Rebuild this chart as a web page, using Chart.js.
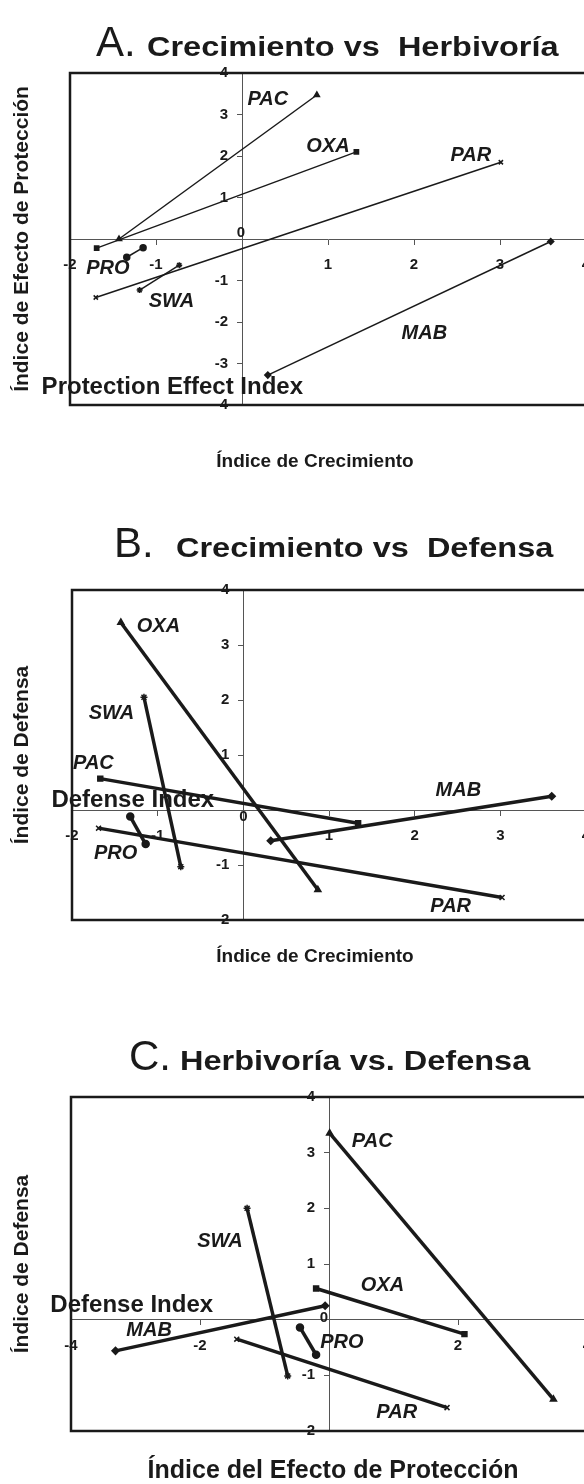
<!DOCTYPE html>
<html>
<head>
<meta charset="utf-8">
<script src="https://cdn.jsdelivr.net/npm/chart.js@4.4.1/dist/chart.umd.min.js"></script>
<style>
  html, body { margin: 0; padding: 0; background: #fff; width: 584px; height: 1484px; overflow: hidden; }
  canvas { position: absolute; left: 0; }
</style>
</head>
<body>
<canvas id="chartA" width="610" height="480" style="top:0px"></canvas>
<canvas id="chartB" width="610" height="500" style="top:480px"></canvas>
<canvas id="chartC" width="610" height="504" style="top:980px"></canvas>
<script>
const SPECIES = ['PAC', 'OXA', 'PAR', 'PRO', 'SWA', 'MAB'];
const MARKERS = ['triangle', 'rect', 'crossRot', 'circle', 'star', 'rectRot'];

// A. growth index (x) vs protection effect index (y): two points per species
const A_X1 = [-1.43, -1.69, -1.70, -1.34, -1.19, 0.30];
const A_Y1 = [0.00, -0.22, -1.41, -0.44, -1.23, -3.28];
const A_X2 = [0.87, 1.33, 3.01, -1.15, -0.73, 3.59];
const A_Y2 = [3.47, 2.10, 1.85, -0.21, -0.63, -0.06];

// B. growth index (x) vs defense index (y)
const B_X1 = [-1.43, -1.67, -1.69, -1.32, -1.16, 0.32];
const B_Y1 = [3.41, 0.57, -0.33, -0.12, 2.05, -0.56];
const B_X2 = [0.87, 1.34, 3.02, -1.14, -0.73, 3.60];
const B_Y2 = [-1.45, -0.24, -1.59, -0.62, -1.03, 0.25];

// C. protection effect index (x) vs defense index (y)
const C_X1 = [0.01, -0.20, -1.43, -0.45, -1.27, -3.31];
const C_Y1 = [3.35, 0.56, -0.35, -0.14, 2.00, -0.56];
const C_X2 = [3.48, 2.10, 1.83, -0.20, -0.64, -0.06];
const C_Y2 = [-1.43, -0.26, -1.58, -0.63, -1.01, 0.25];

// tick labels
const A_XTICKS = [-2, -1, 0, 1, 2, 3, 4];
const A_YTICKS = [-4, -3, -2, -1, 0, 1, 2, 3, 4];
const B_XTICKS = [-2, -1, 0, 1, 2, 3, 4];
const B_YTICKS = [-2, -1, 0, 1, 2, 3, 4];
const C_XTICKS = [-4, -2, 0, 2, 4];
const C_YTICKS = [-2, -1, 0, 1, 2, 3, 4];

// text printed next to the lines, as it appears in each panel
const A_LABELS = ['PAC', 'OXA', 'PAR', 'PRO', 'SWA', 'MAB'];
const A_LABEL_X = [0.30, 1.00, 2.66, -1.56, -0.82, 2.12];
const A_LABEL_Y = [3.35, 2.22, 2.02, -0.71, -1.51, -2.27];
const B_LABELS = ['OXA', 'SWA', 'PAC', 'MAB', 'PRO', 'PAR'];
const B_LABEL_X = [-0.99, -1.54, -1.75, 2.51, -1.49, 2.42];
const B_LABEL_Y = [3.33, 1.75, 0.84, 0.35, -0.79, -1.76];
const C_LABELS = ['PAC', 'SWA', 'OXA', 'MAB', 'PRO', 'PAR'];
const C_LABEL_X = [0.67, -1.69, 0.83, -2.79, 0.20, 1.05];
const C_LABEL_Y = [3.20, 1.40, 0.61, -0.19, -0.41, -1.66];

const FONT = '"Liberation Sans", Arial, Helvetica, sans-serif';

function textAt(ctx, str, x, y, font, align, stretch) {
  ctx.save();
  ctx.font = font;
  ctx.textAlign = align;
  ctx.textBaseline = 'alphabetic';
  ctx.translate(x, y);
  ctx.scale(stretch || 1, 1);
  ctx.fillText(str, 0, 0);
  ctx.restore();
}

const decor = {
  id: 'decor',
  beforeDraw(chart) {
    // y labels sit on the axis line when the axis is placed at x = 0; move them left
    chart.scales.y.getLabelItems().forEach(it => {
      if (!it.moved) { it.options.translation[0] -= 14; it.moved = true; }
    });
  },
  afterDraw(chart, args, o) {
    const ctx = chart.ctx;
    const { left, top, right, bottom } = chart.chartArea;
    const xs = chart.scales.x, ys = chart.scales.y;
    ctx.save();
    ctx.fillStyle = '#1a1a1a';

    // frame
    ctx.strokeStyle = '#1a1a1a';
    ctx.lineWidth = 2.5;
    ctx.strokeRect(left, top, right - left, bottom - top);

    // zero label near the origin
    ctx.font = 'bold 15px ' + FONT;
    ctx.textAlign = 'center';
    ctx.textBaseline = 'middle';
    ctx.fillText('0', xs.getPixelForValue(0) + o.zero[0], ys.getPixelForValue(0) + o.zero[1]);

    // species labels
    ctx.font = 'italic bold 20px ' + FONT;
    o.labels.forEach((t, i) => {
      ctx.fillText(t, xs.getPixelForValue(o.labelX[i]), ys.getPixelForValue(o.labelY[i]));
    });

    // leftover english axis name
    ctx.font = 'bold 24px ' + FONT;
    ctx.textAlign = 'left';
    ctx.fillText(o.note, xs.getPixelForValue(o.noteX), ys.getPixelForValue(o.noteY));

    // panel title
    textAt(ctx, o.letter, o.letterX, o.titleY, '42px ' + FONT, 'left', 1);
    textAt(ctx, o.title, o.titleX, o.titleY, 'bold 28px ' + FONT, 'left', 1.16);

    // axis titles
    textAt(ctx, o.xTitle, o.xTitleX, o.xTitleY, 'bold ' + o.xSize + 'px ' + FONT, 'center', 1);
    ctx.save();
    ctx.translate(o.yTitleX, (top + bottom) / 2);
    ctx.rotate(-Math.PI / 2);
    ctx.font = 'bold 21px ' + FONT;
    ctx.textAlign = 'center';
    ctx.textBaseline = 'middle';
    ctx.fillText(o.yTitle, 0, 0);
    ctx.restore();

    ctx.restore();
  }
};

function axis(min, max, ticks, pos) {
  const horizontal = pos === 'x';
  return {
    type: 'linear',
    min: min,
    max: max,
    position: horizontal ? { y: 0 } : { x: 0 },
    afterFit(s) { if (horizontal) s.height = 0; else s.width = 0; },
    afterBuildTicks(s) { s.ticks = ticks.map(v => ({ value: v })); },
    grid: { display: true, drawOnChartArea: false, drawTicks: true, tickLength: 5, color: '#555', tickColor: '#555', lineWidth: 1 },
    border: { display: true, color: '#555', width: 1 },
    ticks: {
      autoSkip: false,
      maxRotation: 0,
      padding: horizontal ? 12 : 9,
      color: '#1a1a1a',
      font: { family: FONT, size: 15, weight: 'bold' },
      callback: v => (v === 0 ? '' : String(v))
    }
  };
}

function makePanel(id, p) {
  const datasets = SPECIES.map((s, i) => ({
    label: s,
    data: [{ x: p.x1[i], y: p.y1[i] }, { x: p.x2[i], y: p.y2[i] }],
    showLine: true,
    borderColor: '#1a1a1a',
    backgroundColor: '#1a1a1a',
    borderWidth: p.lineWidth,
    pointStyle: MARKERS[i],
    pointRadius: p.pointRadius,
    pointBorderWidth: 1.5
  }));
  return new Chart(document.getElementById(id), {
    type: 'scatter',
    data: { datasets },
    options: {
      responsive: false,
      animation: false,
      events: [],
      layout: { padding: p.pad },
      plugins: { legend: { display: false }, tooltip: { enabled: false }, decor: p.decor },
      scales: {
        x: axis(p.xMin, p.xMax, p.xTicks, 'x'),
        y: axis(p.yMin, p.yMax, p.yTicks, 'y')
      }
    },
    plugins: [decor]
  });
}

makePanel('chartA', {
  x1: A_X1, y1: A_Y1, x2: A_X2, y2: A_Y2,
  xMin: -2, xMax: 4, yMin: -4, yMax: 4, xTicks: A_XTICKS, yTicks: A_YTICKS,
  lineWidth: 1.5, pointRadius: 3,
  pad: { left: 70, right: 24, top: 73, bottom: 75 },
  decor: {
    labels: A_LABELS, labelX: A_LABEL_X, labelY: A_LABEL_Y,
    note: 'Protection Effect Index', noteX: -2.33, noteY: -3.57,
    zero: [-1, -6],
    letter: 'A.', letterX: 96, title: 'Crecimiento vs  Herbivoría', titleX: 147, titleY: 56,
    xTitle: 'Índice de Crecimiento', xTitleX: 315, xTitleY: 467, xSize: 19,
    yTitle: 'Índice de Efecto de Protección', yTitleX: 22
  }
});

makePanel('chartB', {
  x1: B_X1, y1: B_Y1, x2: B_X2, y2: B_Y2,
  xMin: -2, xMax: 4, yMin: -2, yMax: 4, xTicks: B_XTICKS, yTicks: B_YTICKS,
  lineWidth: 3.5, pointRadius: 3.5,
  pad: { left: 72, right: 24, top: 110, bottom: 60 },
  decor: {
    labels: B_LABELS, labelX: B_LABEL_X, labelY: B_LABEL_Y,
    note: 'Defense Index', noteX: -2.24, noteY: 0.18,
    zero: [0, 7],
    letter: 'B.', letterX: 114, title: 'Crecimiento vs  Defensa', titleX: 176, titleY: 77,
    xTitle: 'Índice de Crecimiento', xTitleX: 315, xTitleY: 482, xSize: 19,
    yTitle: 'Índice de Defensa', yTitleX: 22
  }
});

makePanel('chartC', {
  x1: C_X1, y1: C_Y1, x2: C_X2, y2: C_Y2,
  xMin: -4, xMax: 4, yMin: -2, yMax: 4, xTicks: C_XTICKS, yTicks: C_YTICKS,
  lineWidth: 3.5, pointRadius: 3.5,
  pad: { left: 71, right: 23, top: 117, bottom: 53 },
  decor: {
    labels: C_LABELS, labelX: C_LABEL_X, labelY: C_LABEL_Y,
    note: 'Defense Index', noteX: -4.32, noteY: 0.26,
    zero: [-5, -2],
    letter: 'C.', letterX: 129, title: 'Herbivoría vs. Defensa', titleX: 180, titleY: 90,
    xTitle: 'Índice del Efecto de Protección', xTitleX: 333, xTitleY: 498, xSize: 25,
    yTitle: 'Índice de Defensa', yTitleX: 22
  }
});
</script>
</body>
</html>
